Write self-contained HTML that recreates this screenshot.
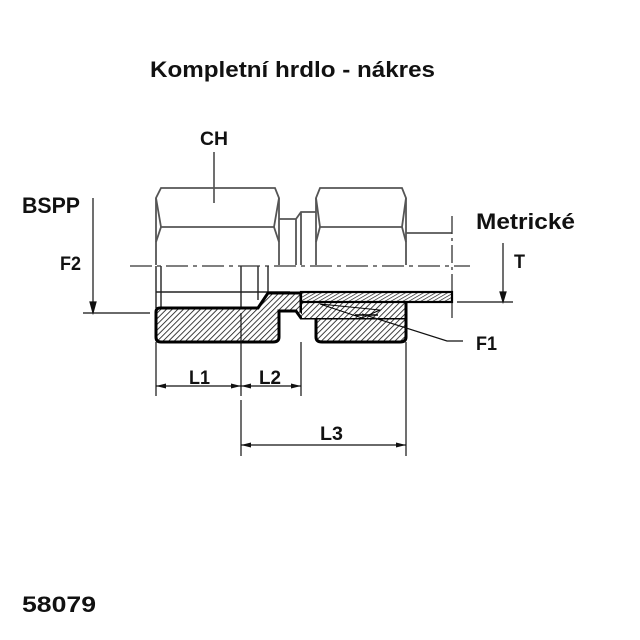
<!DOCTYPE html>
<html><head><style>
body{margin:0;background:#fff;width:640px;height:640px;overflow:hidden}
svg{display:block}
text{font-family:"Liberation Sans",sans-serif;font-weight:bold;fill:#111}
</style></head><body>
<svg width="640" height="640" viewBox="0 0 640 640">
<defs>
<pattern id="h" width="4" height="4" patternUnits="userSpaceOnUse" patternTransform="rotate(45)">
<rect width="4" height="4" fill="#fff"/><line x1="0" y1="0" x2="0" y2="4" stroke="#111" stroke-width="1.6"/>
</pattern>
<pattern id="h2" width="3" height="3" patternUnits="userSpaceOnUse" patternTransform="rotate(60)">
<rect width="3" height="3" fill="#fff"/><line x1="0" y1="0" x2="0" y2="3" stroke="#111" stroke-width="1.3"/>
</pattern>
</defs>
<text x="150" y="77" font-size="22" textLength="285" lengthAdjust="spacingAndGlyphs">Kompletní hrdlo - nákres</text>
<text x="200" y="145" font-size="19" textLength="28" lengthAdjust="spacingAndGlyphs">CH</text>
<text x="22" y="213" font-size="22" textLength="58" lengthAdjust="spacingAndGlyphs">BSPP</text>
<text x="60" y="270" font-size="19" textLength="21" lengthAdjust="spacingAndGlyphs">F2</text>
<text x="476" y="229" font-size="22" textLength="99" lengthAdjust="spacingAndGlyphs">Metrické</text>
<text x="514" y="268" font-size="19" textLength="11" lengthAdjust="spacingAndGlyphs">T</text>
<text x="476" y="350" font-size="19" textLength="21" lengthAdjust="spacingAndGlyphs">F1</text>
<text x="189" y="384" font-size="19" textLength="21" lengthAdjust="spacingAndGlyphs">L1</text>
<text x="259" y="384" font-size="19" textLength="22" lengthAdjust="spacingAndGlyphs">L2</text>
<text x="320" y="440" font-size="19" textLength="23" lengthAdjust="spacingAndGlyphs">L3</text>
<text x="22" y="612" font-size="22" textLength="74" lengthAdjust="spacingAndGlyphs">58079</text>

<g stroke="#555" stroke-width="1.8" fill="none">
<line x1="214" y1="152" x2="214" y2="203" stroke="#222" stroke-width="1.3"/>
<path d="M156,265 V198 L161,188 H275 L279,198 V265"/>
<path d="M156,198 L161,227 L156,242 M279,198 L274,227 L279,242 M161,227 H274"/>
<path d="M279,219 H296 V265 M296,219 L301,212 H316 M301,212 V265"/>
<path d="M316,265 V198 L320,188 H402 L406,198 V265"/>
<path d="M316,198 L320,227 L316,242 M406,198 L402,227 L406,242 M320,227 H402"/>
<line x1="406" y1="233" x2="452" y2="233"/>
<path d="M161,266 V308 M241,266 V308 M258,266 V300 M268,266 V292 M156,292 H290 M156,266 V308" stroke-width="1.4" stroke="#222"/>
</g>
<line x1="130" y1="266" x2="470" y2="266" stroke="#333" stroke-width="1.3" stroke-dasharray="22,5,4,5"/>
<line x1="452" y1="216" x2="452" y2="318" stroke="#333" stroke-width="1.3" stroke-dasharray="18,4,3,4"/>

<path d="M156,312 Q156,308 160,308 H258 L268,293 H301 V311 Q306,318 316,318 H406 V337 Q406,342 400,342 H322 Q316,342 316,337 V318 H301 L296,311 H279 V337 Q279,342 273,342 H161 Q156,342 156,337 Z" fill="url(#h)" stroke="#000" stroke-width="3"/>
<path d="M302,302 H405 V318 H302 Z" fill="url(#h)" stroke="none"/>
<line x1="406" y1="302" x2="406" y2="318" stroke="#000" stroke-width="3"/>
<rect x="301" y="292" width="151" height="10" fill="url(#h2)" stroke="#000" stroke-width="2.2"/>
<path d="M320,304 L380,310 L362,318 Z" fill="url(#h)" stroke="#000" stroke-width="1"/>
<line x1="355" y1="315" x2="378" y2="315" stroke="#000" stroke-width="1.5"/>

<g stroke="#111" stroke-width="1.2" fill="none">
<line x1="93" y1="198" x2="93" y2="306"/>
<path d="M90,302 L93,313 L96,302 Z" fill="#111"/>
<line x1="83" y1="313" x2="150" y2="313"/>
<line x1="503" y1="243" x2="503" y2="296"/>
<path d="M500,292 L503,302 L506,292 Z" fill="#111"/>
<line x1="457" y1="302" x2="513" y2="302"/>
<path d="M362,314 L447,341 H463"/>
<line x1="156" y1="342" x2="156" y2="396"/>
<line x1="241" y1="313" x2="241" y2="396"/>
<line x1="241" y1="400" x2="241" y2="456"/>
<line x1="301" y1="342" x2="301" y2="396"/>
<line x1="406" y1="342" x2="406" y2="456"/>
<line x1="156" y1="386" x2="301" y2="386"/>
<line x1="241" y1="445" x2="406" y2="445"/>
</g>
<g fill="#111">
<path d="M156,386 l10,-2.5 v5 Z"/><path d="M241,386 l-10,-2.5 v5 Z"/>
<path d="M241,386 l10,-2.5 v5 Z"/><path d="M301,386 l-10,-2.5 v5 Z"/>
<path d="M241,445 l10,-2.5 v5 Z"/><path d="M406,445 l-10,-2.5 v5 Z"/>
</g>
</svg>
</body></html>
